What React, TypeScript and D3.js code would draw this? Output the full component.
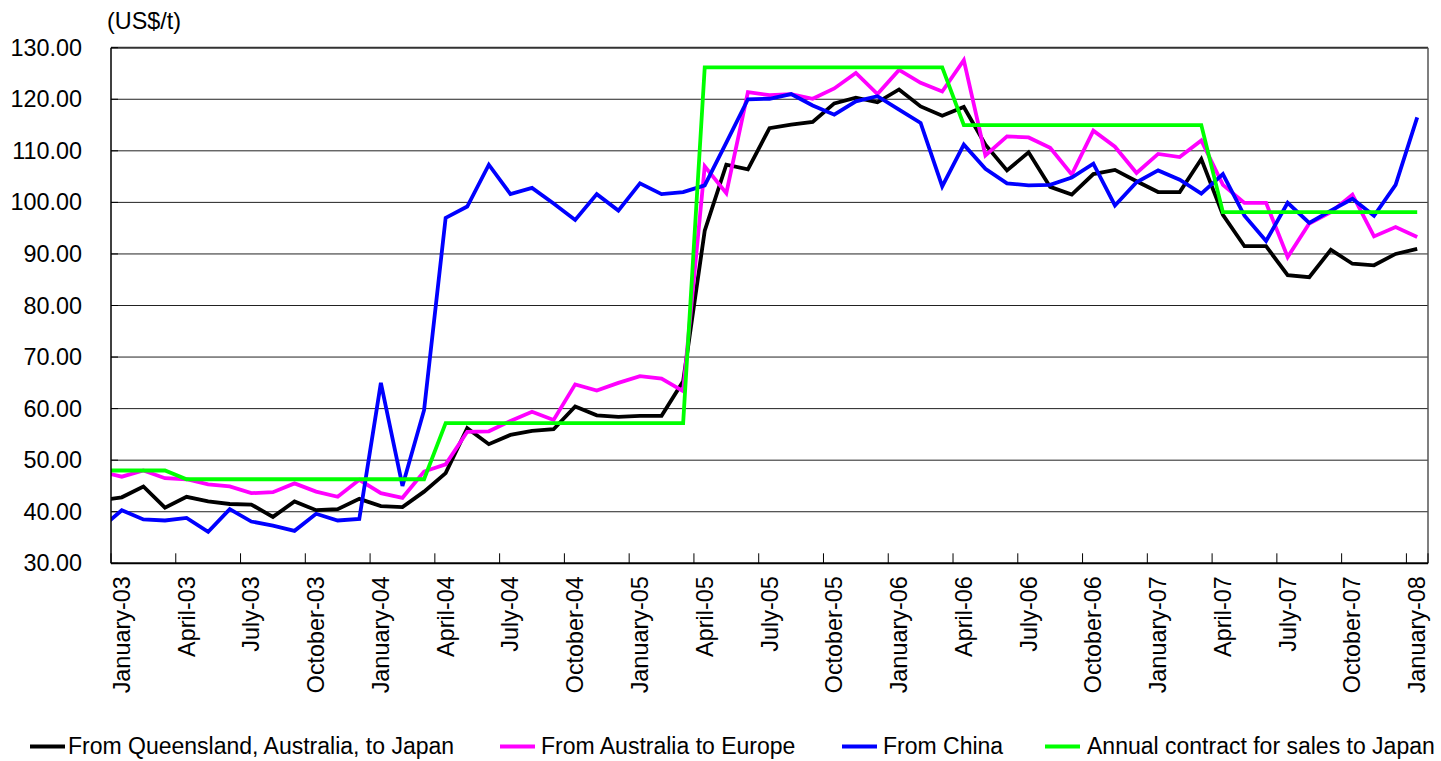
import React from "react";
import * as d3 from "d3";

// Months: December-02 (lead-in, clipped at left edge) then January-03 .. January-08
const monthNames = ["January","February","March","April","May","June","July","August","September","October","November","December"];
const months: string[] = ["December-02"];
for (let y = 3; y <= 8; y++) {
  for (let m = 0; m < 12; m++) {
    if (y === 8 && m > 0) break;
    months.push(`${monthNames[m]}-0${y}`);
  }
}

const queensland = [42.2,
  42.8, 44.9, 40.8, 42.9, 42.0, 41.5, 41.4, 39.0, 42.0, 40.3, 40.5, 42.5,
  41.1, 40.9, 43.9, 47.5, 56.2, 53.1, 54.9, 55.7, 56.0, 60.4, 58.7, 58.4,
  58.6, 58.6, 65.3, 94.5, 107.3, 106.4, 114.4, 115.1, 115.6, 119.2, 120.3, 119.4,
  121.9, 118.6, 116.8, 118.5, 111.2, 106.2, 109.7, 103.0, 101.5, 105.5, 106.3, 104.1,
  102.0, 102.0, 108.4, 97.6, 91.5, 91.5, 85.9, 85.5, 90.8, 88.1, 87.8, 90.0,
  91.0];

const australiaEurope = [47.8,
  46.8, 48.0, 46.5, 46.3, 45.3, 44.9, 43.6, 43.8, 45.5, 43.9, 42.9, 46.2,
  43.6, 42.7, 47.8, 49.2, 55.5, 55.6, 57.6, 59.4, 57.8, 64.7, 63.5, 65.0,
  66.3, 65.8, 63.4, 107.0, 101.8, 121.4, 120.8, 121.0, 120.1, 122.1, 125.1, 121.0,
  125.7, 123.2, 121.5, 127.6, 109.1, 112.8, 112.6, 110.6, 105.4, 113.9, 110.8, 105.7,
  109.4, 108.8, 112.0, 103.4, 99.9, 99.9, 89.4, 95.9, 98.1, 101.5, 93.4, 95.2,
  93.3];

const china = [36.7,
  40.3, 38.5, 38.3, 38.8, 36.1, 40.5, 38.1, 37.3, 36.3, 39.6, 38.3, 38.6,
  65.0, 45.0, 59.7, 97.0, 99.2, 107.3, 101.6, 102.8, 99.8, 96.6, 101.6, 98.4,
  103.7, 101.6, 102.0, 103.3, 111.6, 120.0, 120.1, 121.0, 118.8, 117.0, 119.6, 120.6,
  118.0, 115.4, 103.1, 111.2, 106.5, 103.7, 103.3, 103.4, 104.8, 107.5, 99.4, 103.9,
  106.2, 104.4, 101.7, 105.5, 97.4, 92.5, 99.9, 96.0, 98.4, 100.7, 97.4, 103.4,
  116.5];

const annualContract = [48.0,
  48.0, 48.0, 48.0, 46.3, 46.3, 46.3, 46.3, 46.3, 46.3, 46.3, 46.3, 46.3,
  46.3, 46.3, 46.3, 57.2, 57.2, 57.2, 57.2, 57.2, 57.2, 57.2, 57.2, 57.2,
  57.2, 57.2, 57.2, 126.2, 126.2, 126.2, 126.2, 126.2, 126.2, 126.2, 126.2, 126.2,
  126.2, 126.2, 126.2, 115.0, 115.0, 115.0, 115.0, 115.0, 115.0, 115.0, 115.0, 115.0,
  115.0, 115.0, 115.0, 98.1, 98.1, 98.1, 98.1, 98.1, 98.1, 98.1, 98.1, 98.1,
  98.1];

const seriesNames = ["From Queensland, Australia, to Japan", "From Australia to Europe", "From China", "Annual contract for sales to Japan"];
const seriesColors = ["#000000", "#ff00ff", "#0000ff", "#00ff00"];
const seriesValues = [queensland, australiaEurope, china, annualContract];

const yTicks = [30, 40, 50, 60, 70, 80, 90, 100, 110, 120, 130];
const unitLabel = "(US$/t)";

const W = 1441, H = 761;
const plot = { left: 111, right: 1428, top: 47.7, bottom: 563.3 };
const FONT = "'Liberation Sans', Arial, sans-serif";
const FS = 23.4;
const LEG_FS = 23;

export default function App() {
  const x = d3.scaleLinear().domain([0.5, months.length - 0.5]).range([plot.left, plot.right]);
  const y = d3.scaleLinear().domain([30, 130]).range([plot.bottom, plot.top]);
  const line = d3.line<number>().x((_, i) => x(i)).y((d) => y(d));

  const labelIdx = months.map((_, i) => i).filter((i) => i >= 1 && (i - 1) % 3 === 0);
  const tickPos = labelIdx.map((i) => x(i - 0.5));

  const legendItems = [
    { lx: 30, tx: 68 },
    { lx: 500, tx: 541 },
    { lx: 842, tx: 883 },
    { lx: 1045, tx: 1087 },
  ];
  const legY = 746;

  return (
    <svg width={W} height={H} style={{ position: "absolute", left: 0, top: 0, display: "block" }} fontFamily={FONT}>
      <rect x={0} y={0} width={W} height={H} fill="#fff" />
      <defs>
        <clipPath id="plotClip">
          <rect x={plot.left} y={plot.top} width={plot.right - plot.left} height={plot.bottom - plot.top} />
        </clipPath>
      </defs>
      {/* gridlines */}
      {yTicks.slice(1, -1).map((t) => (
        <line key={t} x1={plot.left} x2={plot.right} y1={y(t)} y2={y(t)} stroke="#222" strokeWidth={1} />
      ))}
      {/* frame */}
      <line x1={plot.left} x2={plot.right} y1={plot.top} y2={plot.top} stroke="#333" strokeWidth={2} />
      <line x1={plot.right} x2={plot.right} y1={plot.top} y2={plot.bottom} stroke="#555" strokeWidth={1.5} />
      {/* y ticks inward */}
      {yTicks.map((t) => (
        <line key={"yt" + t} x1={plot.left} x2={plot.left + 7} y1={y(t)} y2={y(t)} stroke="#000" strokeWidth={1} />
      ))}
      {/* x ticks inward */}
      {tickPos.map((p, i) => (
        <line key={"xt" + i} x1={p} x2={p} y1={plot.bottom} y2={plot.bottom - 10} stroke="#000" strokeWidth={1} />
      ))}
      <line x1={plot.right} x2={plot.right} y1={plot.bottom} y2={plot.bottom - 10} stroke="#000" strokeWidth={1} />
      {/* series */}
      <g clipPath="url(#plotClip)">
        {seriesValues.map((vals, s) => (
          <path key={s} d={line(vals) || ""} fill="none" stroke={seriesColors[s]} strokeWidth={3.8} strokeLinejoin="miter" />
        ))}
      </g>
      {/* axes */}
      <line x1={plot.left} x2={plot.left} y1={plot.top} y2={plot.bottom} stroke="#000" strokeWidth={1.5} />
      <line x1={plot.left} x2={plot.right} y1={plot.bottom} y2={plot.bottom} stroke="#000" strokeWidth={2} />
      {/* y labels */}
      {yTicks.map((t) => (
        <text key={"yl" + t} x={82} y={y(t)} textAnchor="end" dominantBaseline="central" fontSize={FS} fill="#000">
          {t.toFixed(2)}
        </text>
      ))}
      <text x={107} y={21} fontSize={FS} dominantBaseline="central" fill="#000">{unitLabel}</text>
      {/* x labels */}
      {labelIdx.map((i) => (
        <text
          key={"xl" + i}
          transform={`translate(${x(i)},${plot.bottom + 13}) rotate(-90)`}
          textAnchor="end"
          dominantBaseline="central"
          fontSize={FS}
          fill="#000"
        >
          {months[i]}
        </text>
      ))}
      {/* legend */}
      {legendItems.map((it, s) => (
        <g key={"lg" + s}>
          <line x1={it.lx} x2={it.lx + 35} y1={legY + 0.5} y2={legY + 0.5} stroke={seriesColors[s]} strokeWidth={4} />
          <text x={it.tx} y={legY} dominantBaseline="central" fontSize={LEG_FS} fill="#000">{seriesNames[s]}</text>
        </g>
      ))}
    </svg>
  );
}
